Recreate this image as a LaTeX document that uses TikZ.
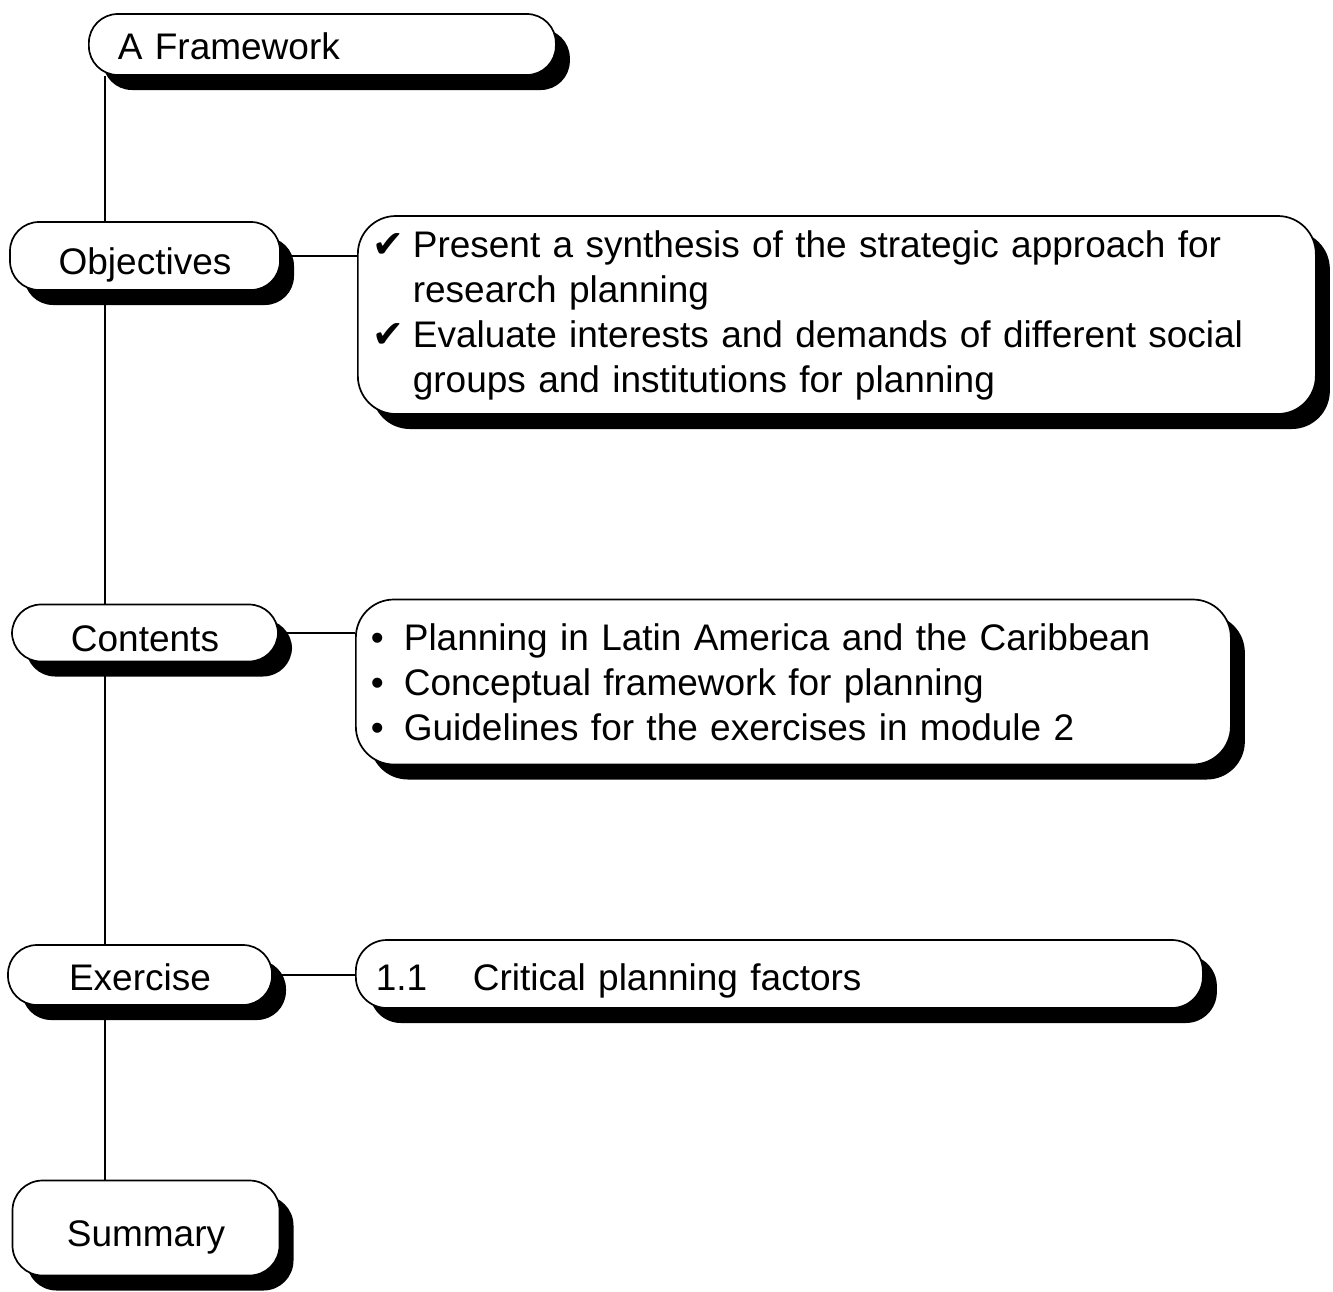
\documentclass[tikz,border=0pt]{standalone}
\usepackage{fontspec}
\setmainfont{Liberation Sans}
\newfontfamily\symfont{DejaVu Sans}
\usetikzlibrary{shadows,backgrounds}
\newcommand{\chk}{\makebox[37pt][l]{\hspace*{-3pt}\symfont\fontsize{38}{38}\selectfont ✔}}
\newcommand{\hang}{\hspace*{37pt}}
\newcommand{\bul}{\makebox[35pt][l]{\hspace*{2pt}\textbullet}}
\begin{document}
\begin{tikzpicture}[x=1pt,y=-1pt,
  every node/.style={font=\fontsize{37}{45}\selectfont},
  card/.style={draw, line width=1.7pt, fill=white,
    drop shadow={shadow xshift=14pt, shadow yshift=-15pt, fill=black, opacity=1}},
  pill/.style={card, rounded corners=29pt, inner sep=0pt, align=center,
    text height=36pt, text depth=0pt},
  panel/.style={card, rounded corners=38pt, inner ysep=0pt, align=left},
  link/.style={line width=1.5pt}]
\useasboundingbox (0,0) rectangle (1333,1291);

% title and section labels
\node[card, rounded corners=29pt, anchor=west, minimum height=61pt,
      inner xsep=29pt, inner ysep=0pt, text width=409pt, align=left,
      text height=29pt, text depth=0pt]
      (fw) at (88,44.5) {A Framework};
\node[pill, minimum width=270pt, minimum height=68pt] (obj) at (145,256) {Objectives};
\node[pill, minimum width=266pt, minimum height=57pt] (con) at (145,633) {Contents};
\node[pill, minimum width=264pt, minimum height=60pt, text height=31pt] (exe) at (140,975) {Exercise};
\node[pill, rounded corners=30pt, minimum width=267pt, minimum height=95pt] (sum) at (146,1228) {Summary};

% detail panels
\node[panel, anchor=west, minimum height=198pt, inner xsep=18pt, text width=922pt]
  (objc) at (357,315) {\chk Present a synthesis of the strategic approach for\\
  \hang research planning\\
  \chk Evaluate interests and demands of different social\\
  \hang groups and institutions for planning};
\node[panel, anchor=west, minimum height=165pt, inner xsep=13pt, text width=849pt]
  (conc) at (355,682) {\bul Planning in Latin America and the Caribbean\\
  \bul Conceptual framework for planning\\
  \bul Guidelines for the exercises in module 2};
\node[panel, rounded corners=31pt, anchor=west, minimum height=68pt, inner xsep=20pt,
      text width=807pt, text height=33pt, text depth=0pt]
  (exec) at (355,974) {\makebox[97pt][l]{1.1}Critical planning factors};

% connectors behind the cards
\coordinate (trunk) at (105,0);
\begin{scope}[on background layer]
  \draw[link] (fw.south -| trunk) -- (sum.north -| trunk);
  \draw[link] (obj.east) -- (objc.west |- obj.east);
  \draw[link] (con.east) -- (conc.west |- con.east);
  \draw[link] (exe.east) -- (exec.west |- exe.east);
\end{scope}
\end{tikzpicture}
\end{document}
